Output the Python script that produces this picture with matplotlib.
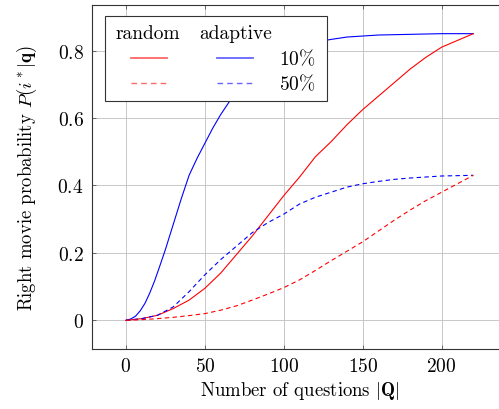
import matplotlib.pyplot as plt
from matplotlib.patches import Rectangle

plt.rcParams['font.family'] = 'serif'
plt.rcParams['font.serif'] = ['cmr10']
plt.rcParams['mathtext.fontset'] = 'cm'
plt.rcParams['axes.unicode_minus'] = False

# number of questions at which the curves were read
q_adapt10 = [0, 3, 6, 9, 12, 15, 18, 21, 25, 30, 35, 40, 45, 50, 55, 60, 65, 70, 80,
             90, 100, 110, 120, 130, 140, 150, 160, 180, 200, 220]
p_adapt10 = [0, 0.004, 0.012, 0.028, 0.05, 0.08, 0.115, 0.155, 0.21, 0.285, 0.36, 0.43,
             0.48, 0.525, 0.57, 0.61, 0.645, 0.68, 0.73, 0.77, 0.795, 0.81, 0.825,
             0.833, 0.84, 0.843, 0.846, 0.848, 0.85, 0.85]

q_rand = [0, 10, 20, 30, 40, 50, 60, 70, 80, 90, 100, 110, 120, 130, 140, 150, 160,
          170, 180, 190, 200, 210, 220]
p_rand10 = [0, 0.005, 0.015, 0.035, 0.06, 0.095, 0.14, 0.195, 0.25, 0.31, 0.37, 0.425,
            0.485, 0.53, 0.58, 0.625, 0.665, 0.705, 0.745, 0.78, 0.81, 0.83, 0.85]
p_rand50 = [0, 0.002, 0.005, 0.009, 0.014, 0.02, 0.03, 0.043, 0.06, 0.078, 0.097, 0.12,
            0.148, 0.177, 0.205, 0.233, 0.265, 0.297, 0.327, 0.355, 0.38, 0.405, 0.43]

q_adapt50 = [0, 10, 20, 30, 40, 50, 60, 70, 80, 90, 100, 110, 120, 130, 140, 150, 160,
             170, 180, 200, 220]
p_adapt50 = [0, 0.005, 0.015, 0.04, 0.085, 0.135, 0.18, 0.22, 0.26, 0.29, 0.315, 0.345,
             0.365, 0.38, 0.395, 0.405, 0.412, 0.418, 0.422, 0.428, 0.43]

xticks = [0, 50, 100, 150, 200]
yticks = [0, 0.2, 0.4, 0.6, 0.8]
ytick_labels = ['$0$', '$0.2$', '$0.4$', '$0.6$', '$0.8$']

fig = plt.figure(figsize=(4.99, 4.10), dpi=100)
ax = fig.add_axes([92 / 499, 60 / 410, (508 - 92) / 499, 344 / 410])

ax.plot(q_adapt10, p_adapt10, color='blue', lw=0.8)
ax.plot(q_rand, p_rand10, color='red', lw=0.8)
ax.plot(q_adapt50, p_adapt50, color='blue', lw=0.8, ls=(0, (4, 3)))
ax.plot(q_rand, p_rand50, color='red', lw=0.8, ls=(0, (4, 3)))

ax.set_xlim(-21.5, 242)
ax.set_ylim(-0.085, 0.935)
ax.set_xticks(xticks)
ax.set_xticklabels(['$%d$' % t for t in xticks])
ax.set_yticks(yticks)
ax.set_yticklabels(ytick_labels)
ax.grid(True, color='#bfbfbf', lw=0.6)
ax.set_axisbelow(True)
ax.tick_params(direction='in', length=3, width=0.6, top=True, right=True,
               labelsize=14, pad=6, color='#555555')
for s in ax.spines.values():
    s.set_linewidth(0.8)
    s.set_color('#333333')

ax.set_xlabel(r'Number of questions $|\mathbf{Q}|$', fontsize=13.5, labelpad=3)
ax.set_ylabel(r'Right movie probability $P(i^*|\mathbf{q})$', fontsize=13.5, labelpad=13)

# tabular legend
t = ax.transAxes
ax.add_patch(Rectangle((0.032, 0.722), 0.534, 0.247, transform=t, facecolor='white',
                       edgecolor='#333333', lw=0.8, zorder=5))
ax.text(0.135, 0.918, 'random', transform=t, fontsize=14, ha='center', va='center', zorder=6)
ax.text(0.345, 0.918, 'adaptive', transform=t, fontsize=14, ha='center', va='center', zorder=6)
ax.text(0.538, 0.846, r'$10\%$', transform=t, fontsize=14, ha='right', va='center', zorder=6)
ax.text(0.538, 0.773, r'$50\%$', transform=t, fontsize=14, ha='right', va='center', zorder=6)
ax.plot([0.093, 0.181], [0.846, 0.846], transform=t, color='red', alpha=0.6, lw=1.3, zorder=6)
ax.plot([0.301, 0.388], [0.846, 0.846], transform=t, color='blue', alpha=0.6, lw=1.3, zorder=6)
ax.plot([0.093, 0.181], [0.773, 0.773], transform=t, color='red', alpha=0.6, lw=1.0,
        ls=(0, (4, 3)), zorder=6)
ax.plot([0.301, 0.388], [0.773, 0.773], transform=t, color='blue', alpha=0.6, lw=1.0,
        ls=(0, (4, 3)), zorder=6)

plt.savefig('out.png', dpi=100)
